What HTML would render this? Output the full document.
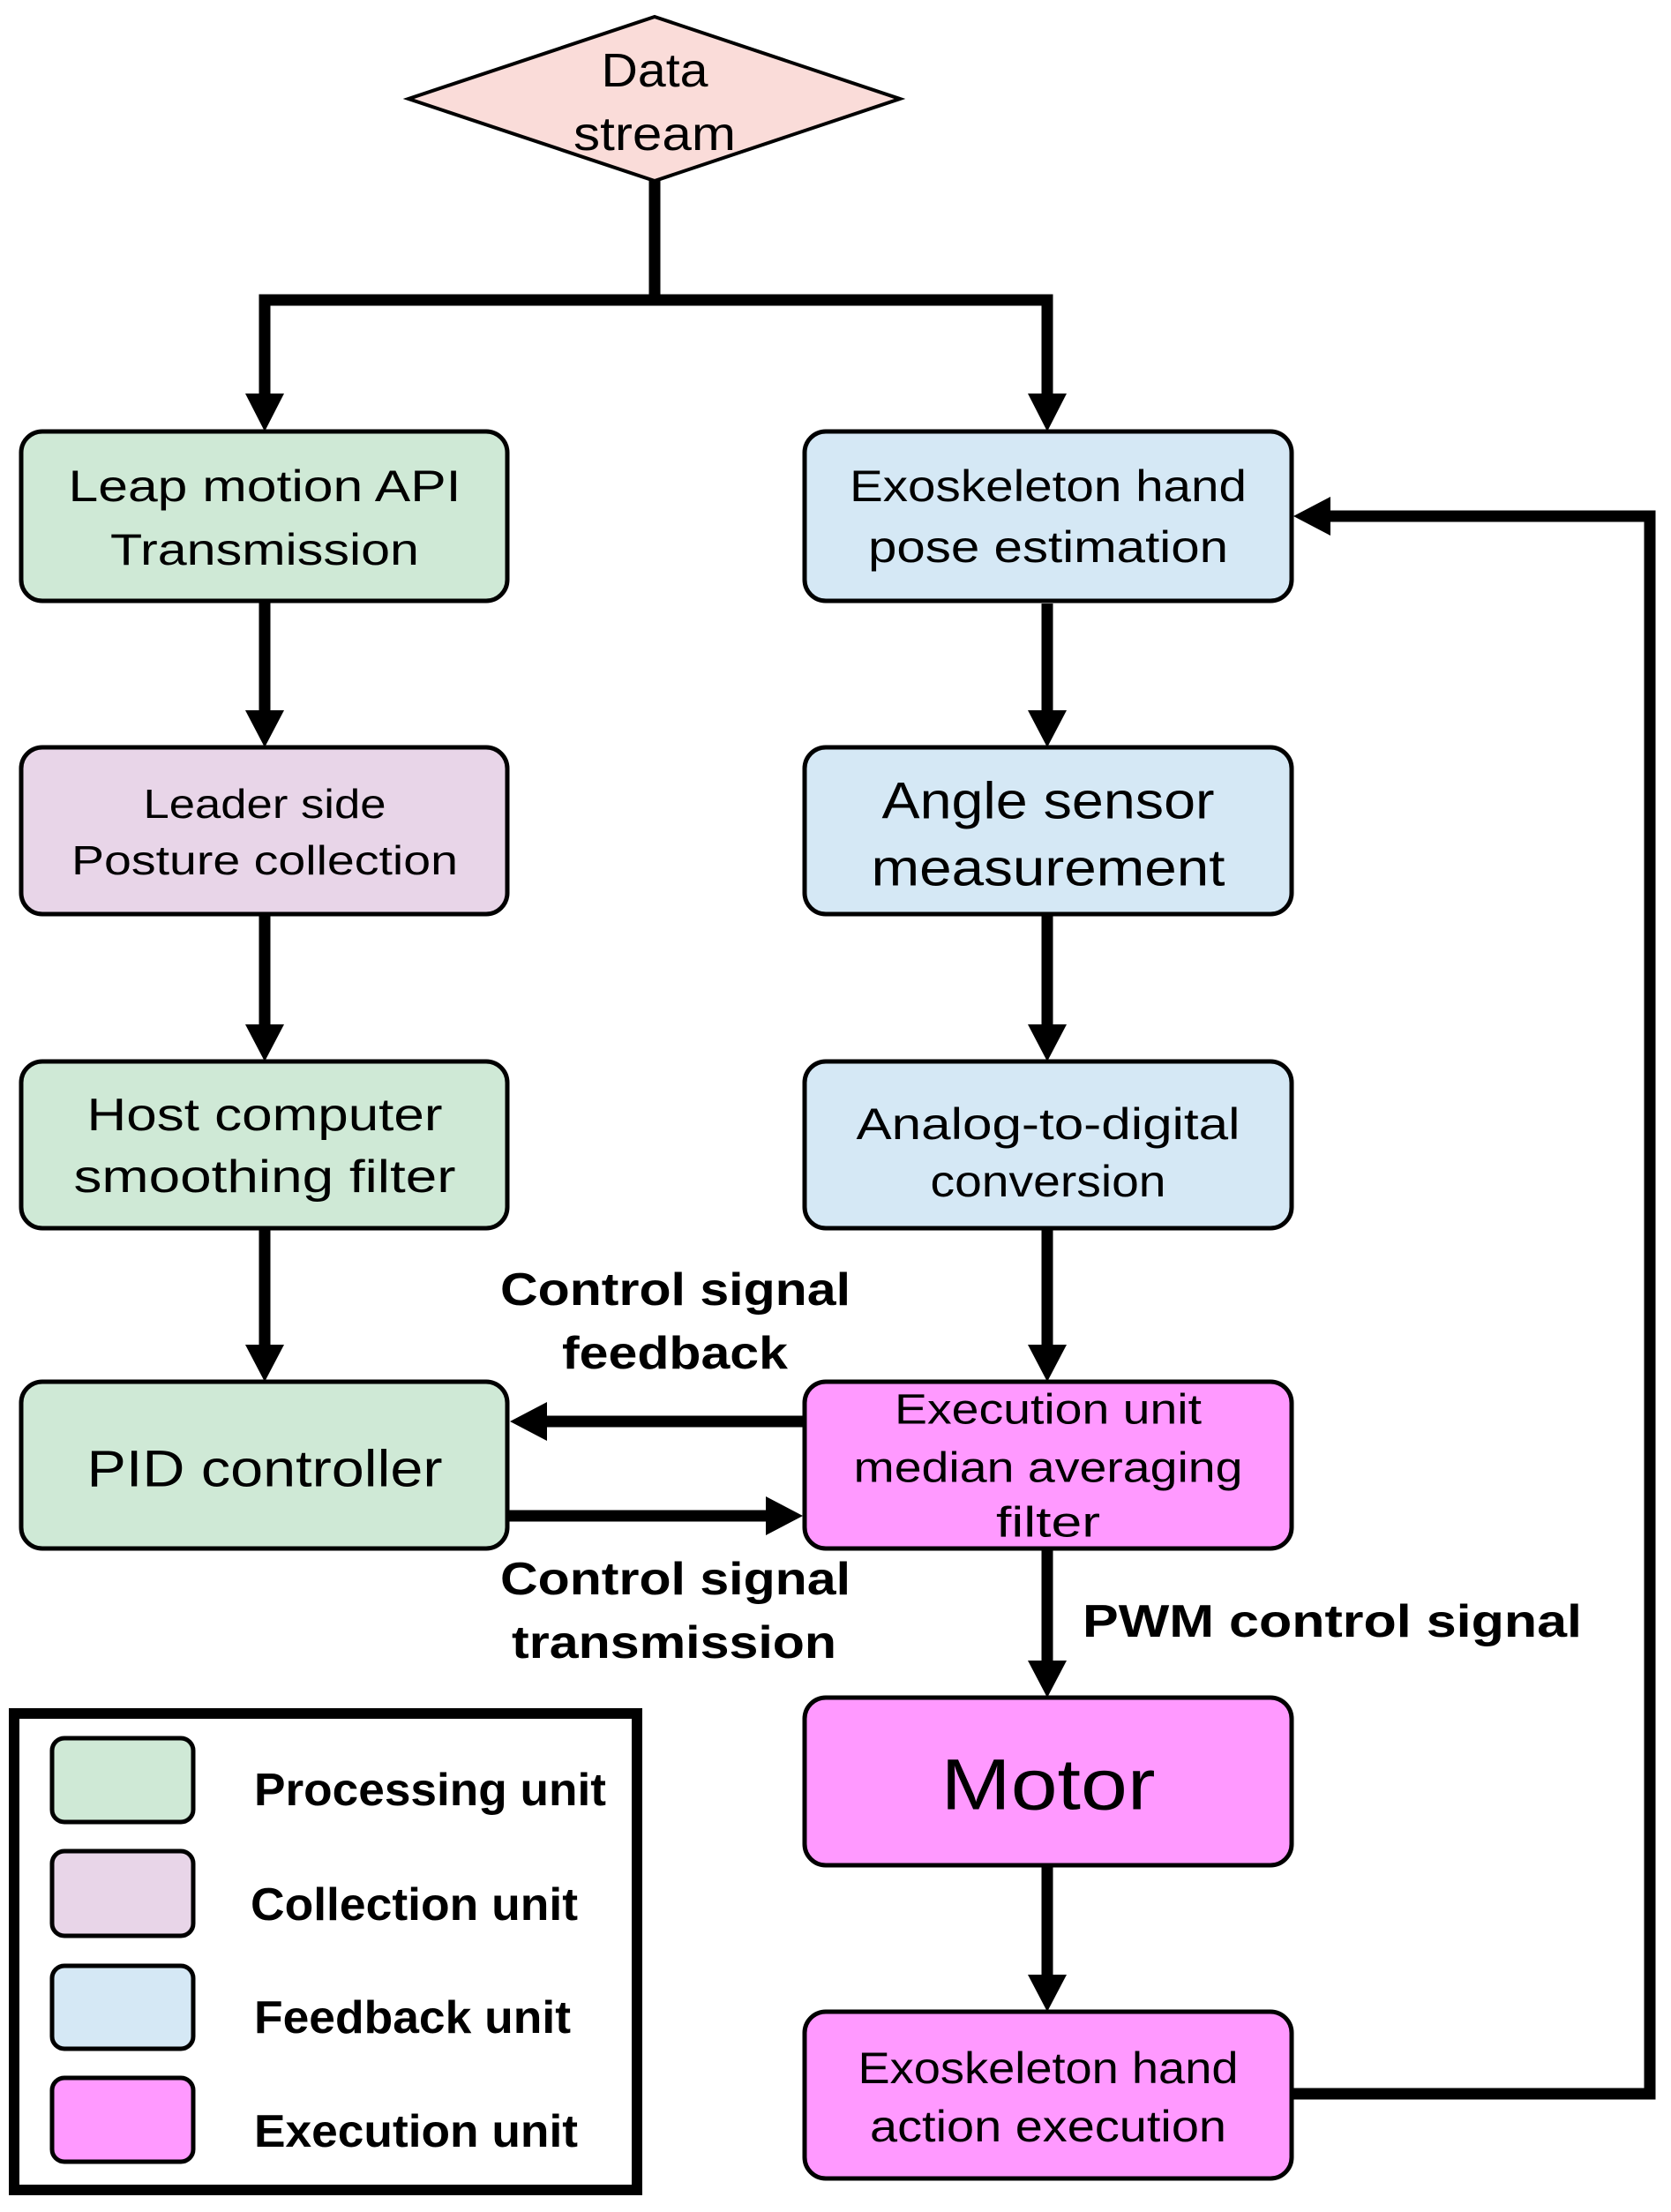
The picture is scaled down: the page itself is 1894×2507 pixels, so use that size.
<!DOCTYPE html>
<html><head><meta charset="utf-8"><style>html,body{margin:0;padding:0;background:#fff}svg{display:block}text{font-family:"Liberation Sans",sans-serif;fill:#000}</style></head>
<body>
<svg width="1894" height="2507" viewBox="0 0 1894 2507" xmlns="http://www.w3.org/2000/svg">
<g stroke="#000" stroke-width="5">
<polygon points="742,19 1020,112 742,205 463,112" fill="#fadcd9" stroke-width="4"/>
<rect x="24" y="489" width="551" height="192" rx="24" fill="#cfe9d6"/>
<rect x="912" y="489" width="552" height="192" rx="24" fill="#d5e8f5"/>
<rect x="24" y="847" width="551" height="189" rx="24" fill="#e8d5e8"/>
<rect x="912" y="847" width="552" height="189" rx="24" fill="#d5e8f5"/>
<rect x="24" y="1203" width="551" height="189" rx="24" fill="#cfe9d6"/>
<rect x="912" y="1203" width="552" height="189" rx="24" fill="#d5e8f5"/>
<rect x="24" y="1566" width="551" height="189" rx="24" fill="#cfe9d6"/>
<rect x="912" y="1566" width="552" height="189" rx="24" fill="#ff99ff"/>
<rect x="912" y="1924" width="552" height="190" rx="24" fill="#ff99ff"/>
<rect x="912" y="2280" width="552" height="189" rx="24" fill="#ff99ff"/>
<rect x="16" y="1942" width="706" height="540" fill="none" stroke-width="12"/>
<rect x="59" y="1970" width="160" height="95" rx="14" fill="#cfe9d6"/>
<rect x="59" y="2098" width="160" height="96" rx="14" fill="#e8d5e8"/>
<rect x="59" y="2228" width="160" height="94" rx="14" fill="#d5e8f5"/>
<rect x="59" y="2355" width="160" height="95" rx="14" fill="#ff99ff"/>
</g>
<g stroke="#000" stroke-width="13" fill="none">
<polyline points="742,205 742,340"/>
<polyline points="300,449 300,340 1187,340 1187,449"/>
<line x1="300" y1="681" x2="300" y2="808"/>
<line x1="300" y1="1036" x2="300" y2="1164"/>
<line x1="300" y1="1392" x2="300" y2="1527"/>
<line x1="1187" y1="684" x2="1187" y2="808"/>
<line x1="1187" y1="1036" x2="1187" y2="1164"/>
<line x1="1187" y1="1392" x2="1187" y2="1527"/>
<line x1="1187" y1="1755" x2="1187" y2="1885"/>
<line x1="1187" y1="2114" x2="1187" y2="2241"/>
<polyline points="1464,2373 1870,2373 1870,585 1505,585"/>
<line x1="912" y1="1611" x2="616" y2="1611"/>
<line x1="575" y1="1718" x2="872" y2="1718"/>
</g>
<g fill="#000">
<polygon points="278,446 322,446 300,489"/>
<polygon points="1165,446 1209,446 1187,489"/>
<polygon points="278,805 322,805 300,847"/>
<polygon points="278,1161 322,1161 300,1203"/>
<polygon points="278,1524 322,1524 300,1566"/>
<polygon points="1165,805 1209,805 1187,847"/>
<polygon points="1165,1161 1209,1161 1187,1203"/>
<polygon points="1165,1524 1209,1524 1187,1566"/>
<polygon points="1165,1882 1209,1882 1187,1924"/>
<polygon points="1165,2238 1209,2238 1187,2280"/>
<polygon points="1508,563 1508,607 1466,585"/>
<polygon points="620,1589 620,1633 578,1611"/>
<polygon points="868,1696 868,1740 910,1718"/>
</g>
<g text-anchor="middle" dominant-baseline="central" font-size="50">
<text x="742" y="80" font-size="54" textLength="121" lengthAdjust="spacingAndGlyphs">Data</text>
<text x="742" y="152" font-size="54" textLength="184" lengthAdjust="spacingAndGlyphs">stream</text>
<text x="300" y="551" textLength="445" lengthAdjust="spacingAndGlyphs">Leap motion API</text>
<text x="300" y="623" textLength="350" lengthAdjust="spacingAndGlyphs">Transmission</text>
<text x="1188" y="551" textLength="450" lengthAdjust="spacingAndGlyphs">Exoskeleton hand</text>
<text x="1188" y="620" textLength="408" lengthAdjust="spacingAndGlyphs">pose estimation</text>
<text x="300" y="911" font-size="46" textLength="275" lengthAdjust="spacingAndGlyphs">Leader side</text>
<text x="300" y="975" font-size="46" textLength="438" lengthAdjust="spacingAndGlyphs">Posture collection</text>
<text x="1188" y="908" font-size="58" textLength="377" lengthAdjust="spacingAndGlyphs">Angle sensor</text>
<text x="1188" y="984" font-size="58" textLength="401" lengthAdjust="spacingAndGlyphs">measurement</text>
<text x="300" y="1264" font-size="52" textLength="403" lengthAdjust="spacingAndGlyphs">Host computer</text>
<text x="300" y="1334" font-size="52" textLength="433" lengthAdjust="spacingAndGlyphs">smoothing filter</text>
<text x="1188" y="1274" font-size="50" textLength="435" lengthAdjust="spacingAndGlyphs">Analog-to-digital</text>
<text x="1188" y="1339" font-size="50" textLength="267" lengthAdjust="spacingAndGlyphs">conversion</text>
<text x="300" y="1665" font-size="58" textLength="403" lengthAdjust="spacingAndGlyphs">PID controller</text>
<text x="1188" y="1598" font-size="48" textLength="348" lengthAdjust="spacingAndGlyphs">Execution unit</text>
<text x="1188" y="1664" font-size="48" textLength="441" lengthAdjust="spacingAndGlyphs">median averaging</text>
<text x="1188" y="1726" font-size="48" textLength="118" lengthAdjust="spacingAndGlyphs">filter</text>
<text x="1188" y="2023" font-size="82" textLength="243" lengthAdjust="spacingAndGlyphs">Motor</text>
<text x="1188" y="2344" font-size="50" textLength="431" lengthAdjust="spacingAndGlyphs">Exoskeleton hand</text>
<text x="1188" y="2410" font-size="50" textLength="404" lengthAdjust="spacingAndGlyphs">action execution</text>
</g>
<g font-weight="bold" dominant-baseline="central" font-size="52">
<text x="567" y="1462" textLength="397" lengthAdjust="spacingAndGlyphs">Control signal</text>
<text x="637" y="1534" textLength="256" lengthAdjust="spacingAndGlyphs">feedback</text>
<text x="567" y="1790" textLength="397" lengthAdjust="spacingAndGlyphs">Control signal</text>
<text x="580" y="1862" textLength="368" lengthAdjust="spacingAndGlyphs">transmission</text>
<text x="1227" y="1838" textLength="566" lengthAdjust="spacingAndGlyphs">PWM  control signal</text>
<text x="288" y="2029" textLength="399" lengthAdjust="spacingAndGlyphs">Processing unit</text>
<text x="284" y="2159" textLength="371" lengthAdjust="spacingAndGlyphs">Collection unit</text>
<text x="288" y="2287" textLength="359" lengthAdjust="spacingAndGlyphs">Feedback unit</text>
<text x="288" y="2416" textLength="367" lengthAdjust="spacingAndGlyphs">Execution unit</text>
</g>
</svg>
</body></html>
